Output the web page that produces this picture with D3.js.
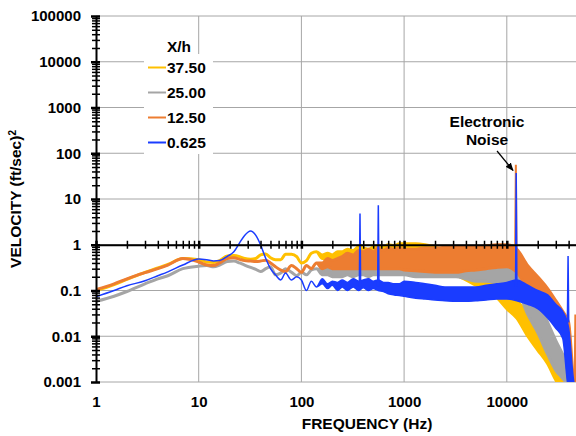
<!DOCTYPE html>
<html>
<head>
<meta charset="utf-8">
<script src="https://cdn.jsdelivr.net/npm/d3@7"></script>
<style>
  body { margin: 0; background: #fff; }
  text { font-family: "Liberation Sans", Arial, sans-serif; font-weight: bold; fill: #000; }
</style>
</head>
<body>
<script>
var freq = [1, 1.5, 2, 3, 4, 5, 7,
  10, 12, 14, 16, 19, 22, 25, 28, 32, 36, 40, 45, 50, 56, 63, 70, 80, 90,
  100, 112, 125, 140, 160, 180, 200, 225, 250, 280, 320, 360, 400, 450, 500, 560, 630, 700, 800, 900,
  1000, 1300, 1600, 2000, 2500, 3200, 4000, 5000, 6300, 8000,
  10000, 12500, 16000, 20000, 25000, 30000, 35000, 40000, 45000, 50000];

var seriesNames = ["37.50", "25.00", "12.50", "0.625"];
var seriesColors = ["#ffc000", "#a5a5a5", "#ed7d31", "#1a3cff"];

// lower / upper edge of each noisy band (equal where the curve is a single line)
var goldLo = [0.1, 0.135, 0.175, 0.25, 0.31, 0.37, 0.5,
  0.47, 0.42, 0.41, 0.45, 0.57, 0.58, 0.55, 0.5, 0.48, 0.5, 0.6, 0.63, 0.52, 0.47, 0.47, 0.62, 0.62, 0.55,
  0.4, 0.45, 0.65, 0.7, 0.5, 0.5, 0.45, 0.45, 0.4, 0.45, 0.45, 0.5, 0.5, 0.45, 0.5, 0.5, 0.5, 0.55, 0.55, 0.5,
  0.55, 0.5, 0.45, 0.4, 0.3, 0.22, 0.17, 0.13, 0.1, 0.07,
  0.04, 0.025, 0.01, 0.005, 0.0025, 0.0011, 0.0006, 0.0004, 0.0003, 0.0002];
var goldHi = [0.1, 0.135, 0.175, 0.25, 0.31, 0.37, 0.5,
  0.47, 0.42, 0.41, 0.45, 0.57, 0.58, 0.55, 0.5, 0.48, 0.5, 0.6, 0.63, 0.52, 0.47, 0.47, 0.62, 0.62, 0.55,
  0.4, 0.45, 0.65, 0.7, 0.6, 0.65, 0.6, 0.7, 0.7, 0.8, 0.75, 0.9, 0.85, 0.8, 0.9, 0.95, 0.9, 1.0, 0.95, 1.05,
  1.05, 1.05, 1.0, 0.9, 0.7, 0.5, 0.35, 0.25, 0.2, 0.15,
  0.1, 0.06, 0.03, 0.012, 0.006, 0.003, 0.0012, 0.0006, 0.0004, 0.0003];

var grayLo = [0.058, 0.075, 0.095, 0.14, 0.18, 0.21, 0.3,
  0.34, 0.35, 0.33, 0.36, 0.43, 0.44, 0.4, 0.36, 0.32, 0.29, 0.26, 0.3, 0.33, 0.22, 0.24, 0.3, 0.25, 0.21,
  0.25, 0.22, 0.28, 0.3, 0.22, 0.22, 0.2, 0.2, 0.2, 0.22, 0.2, 0.22, 0.22, 0.2, 0.22, 0.22, 0.22, 0.22, 0.22, 0.22,
  0.22, 0.2, 0.2, 0.2, 0.2, 0.2, 0.18, 0.16, 0.16, 0.15,
  0.15, 0.11, 0.03, 0.012, 0.004, 0.0018, 0.0012, 0.0008, 0.0005, 0.0003];
var grayHi = [0.058, 0.075, 0.095, 0.14, 0.18, 0.21, 0.3,
  0.34, 0.35, 0.33, 0.36, 0.43, 0.44, 0.4, 0.36, 0.32, 0.29, 0.26, 0.3, 0.33, 0.22, 0.24, 0.3, 0.25, 0.21,
  0.25, 0.22, 0.28, 0.3, 0.28, 0.32, 0.3, 0.35, 0.4, 0.42, 0.4, 0.45, 0.45, 0.45, 0.48, 0.5, 0.5, 0.5, 0.5, 0.5,
  0.5, 0.5, 0.5, 0.5, 0.45, 0.4, 0.35, 0.32, 0.33, 0.35,
  0.35, 0.3, 0.12, 0.06, 0.02, 0.008, 0.004, 0.002, 0.001, 0.0006];

var orangeLo = [0.105, 0.14, 0.18, 0.245, 0.3, 0.36, 0.5,
  0.42, 0.36, 0.35, 0.4, 0.5, 0.52, 0.48, 0.45, 0.44, 0.43, 0.44, 0.46, 0.4, 0.33, 0.28, 0.26, 0.35, 0.3,
  0.25, 0.35, 0.3, 0.4, 0.3, 0.33, 0.3, 0.3, 0.3, 0.3, 0.3, 0.3, 0.3, 0.3, 0.3, 0.3, 0.3, 0.3, 0.3, 0.3,
  0.28, 0.27, 0.26, 0.25, 0.25, 0.25, 0.27, 0.28, 0.3, 0.32,
  0.33, 0.25, 0.11, 0.06, 0.04, 0.025, 0.018, 0.008, 0.0005, 0.0003];
var orangeHi = [0.105, 0.14, 0.18, 0.245, 0.3, 0.36, 0.5,
  0.42, 0.36, 0.35, 0.4, 0.5, 0.52, 0.48, 0.45, 0.44, 0.43, 0.44, 0.46, 0.4, 0.33, 0.28, 0.26, 0.35, 0.3,
  0.25, 0.35, 0.3, 0.4, 0.4, 0.5, 0.45, 0.5, 0.55, 0.65, 0.6, 0.75, 0.7, 0.8, 0.7, 0.85, 0.75, 0.85, 0.8, 0.85,
  0.8, 0.8, 0.85, 0.85, 0.88, 0.88, 0.9, 0.9, 0.95, 1.0,
  1.0, 0.8, 0.35, 0.2, 0.11, 0.06, 0.035, 0.02, 0.001, 0.0006];

var blueLo = [0.073, 0.1, 0.127, 0.163, 0.21, 0.256, 0.36,
  0.49, 0.47, 0.44, 0.45, 0.56, 0.7, 1.1, 1.6, 2.0, 1.6, 1.0, 0.5, 0.3, 0.22, 0.17, 0.24, 0.17, 0.2,
  0.17, 0.1, 0.16, 0.12, 0.14, 0.11, 0.13, 0.1, 0.12, 0.1, 0.12, 0.1, 0.115, 0.1, 0.11, 0.1, 0.095, 0.085, 0.08, 0.078,
  0.075, 0.068, 0.065, 0.062, 0.06, 0.058, 0.058, 0.06, 0.062, 0.065,
  0.065, 0.06, 0.05, 0.04, 0.025, 0.015, 0.009, 0.0007, 0.0005, 0.0003];
var blueHi = [0.073, 0.1, 0.127, 0.163, 0.21, 0.256, 0.36,
  0.49, 0.47, 0.44, 0.45, 0.56, 0.7, 1.1, 1.6, 2.0, 1.6, 1.0, 0.5, 0.3, 0.22, 0.17, 0.24, 0.17, 0.2,
  0.17, 0.1, 0.16, 0.12, 0.18, 0.14, 0.16, 0.15, 0.17, 0.15, 0.18, 0.16, 0.17, 0.18, 0.16, 0.17, 0.15, 0.15, 0.14, 0.14,
  0.16, 0.15, 0.14, 0.13, 0.12, 0.12, 0.12, 0.12, 0.13, 0.14,
  0.15, 0.17, 0.13, 0.1, 0.08, 0.05, 0.035, 0.015, 0.001, 0.0006];

// narrow peaks: [frequency, base value, peak value]
var goldSpikes = [[12300, 0.03, 0.07]];
var graySpikes = [[12300, 0.2, 0.45]];
var orangeSpikes = [[12250, 0.8, 56], [46500, 0.0008, 0.03]];
var blueSpikes = [[372, 0.12, 4.8], [561, 0.12, 7.3], [12350, 0.12, 37], [39500, 0.02, 0.57]];

var xTicks = [1, 10, 100, 1000, 10000];
var yTicks = [0.001, 0.01, 0.1, 1, 10, 100, 1000, 10000, 100000];
var noiseFreq = 12300;

var width = 576, height = 436;
var decade = 102.7;

var x = d3.scaleLog().domain([1, 50000]).range([96, 96 + decade * Math.log10(50000)]);
var y = d3.scaleLog().domain([0.001, 100000]).range([382, 16]);

var svg = d3.select("body").append("svg")
  .attr("width", width)
  .attr("height", height);

svg.append("defs").append("clipPath").attr("id", "plot")
  .append("rect")
  .attr("x", x(1)).attr("y", y(100000))
  .attr("width", width - x(1)).attr("height", y(0.001) - y(100000));

svg.select("defs").append("marker")
  .attr("id", "arrow")
  .attr("viewBox", "0 0 10 10")
  .attr("refX", 9).attr("refY", 5)
  .attr("markerWidth", 7).attr("markerHeight", 7)
  .attr("orient", "auto")
  .append("path").attr("d", "M0,1L10,5L0,9Z").attr("fill", "#000");

// grid
var grid = svg.append("g").attr("stroke", "#a6a6a6").attr("stroke-width", 1);
grid.selectAll(".h").data(yTicks).enter().append("line")
  .attr("x1", x(1)).attr("x2", width)
  .attr("y1", function(d) { return y(d); })
  .attr("y2", function(d) { return y(d); });
grid.selectAll(".v").data(xTicks.slice(1)).enter().append("line")
  .attr("x1", function(d) { return x(d); })
  .attr("x2", function(d) { return x(d); })
  .attr("y1", y(100000)).attr("y2", y(0.001));

// series
var series = [
  {name: seriesNames[0], color: seriesColors[0], w: 3, lo: goldLo, hi: goldHi, spikes: goldSpikes},
  {name: seriesNames[1], color: seriesColors[1], w: 3, lo: grayLo, hi: grayHi, spikes: graySpikes},
  {name: seriesNames[2], color: seriesColors[2], w: 3, lo: orangeLo, hi: orangeHi, spikes: orangeSpikes},
  {name: seriesNames[3], color: seriesColors[3], w: 1.5, lo: blueLo, hi: blueHi, spikes: blueSpikes}
];

var area = d3.area()
  .x(function(d) { return x(d.f); })
  .y0(function(d) { return y(d.lo); })
  .y1(function(d) { return y(d.hi); })
  .curve(d3.curveMonotoneX);

var plot = svg.append("g").attr("clip-path", "url(#plot)");

series.forEach(function(s) {
  var rows = freq.map(function(f, i) { return {f: f, lo: s.lo[i], hi: s.hi[i]}; });
  plot.append("path")
    .attr("d", area(rows))
    .attr("fill", s.color)
    .attr("stroke", s.color)
    .attr("stroke-width", s.w)
    .attr("stroke-linejoin", "round");

  plot.selectAll(null).data(s.spikes).enter().append("path")
    .attr("d", function(d) {
      return "M" + x(d[0] * 0.985) + "," + y(d[1]) +
        "L" + x(d[0]) + "," + y(d[2]) +
        "L" + x(d[0] * 1.015) + "," + y(d[1]);
    })
    .attr("fill", "none")
    .attr("stroke", s.color)
    .attr("stroke-width", s.w === 3 ? 2 : 1.5);
});

function isMajor(d) { return Math.abs(Math.log10(d) - Math.round(Math.log10(d))) < 1e-6; }

// y axis with crossing ticks
var yAxisG = svg.append("g").attr("transform", "translate(" + x(1) + ",0)")
  .call(d3.axisLeft(y).tickValues(y.ticks()).tickFormat("").tickSizeInner(4).tickSizeOuter(0));
yAxisG.select(".domain").attr("stroke-width", 2);
yAxisG.selectAll(".tick line")
  .attr("x1", 4)
  .attr("x2", function(d) { return isMajor(d) ? -5 : -4; })
  .attr("stroke-width", function(d) { return isMajor(d) ? 2.5 : 1.5; });

svg.append("g").attr("transform", "translate(" + x(1) + ",0)")
  .call(d3.axisLeft(y).tickValues(yTicks).tickFormat(d3.format("~g")).tickSize(0).tickPadding(15))
  .call(function(g) { g.select(".domain").remove(); })
  .selectAll("text").style("font-size", "15px").style("font-family", "'Liberation Sans', Arial, sans-serif");

// x axis runs through y = 1
var xAxisG = svg.append("g").attr("transform", "translate(0," + y(1) + ")")
  .call(d3.axisBottom(x).tickValues(x.ticks()).tickFormat("").tickSizeInner(4).tickSizeOuter(0));
xAxisG.select(".domain").attr("stroke-width", 2);
xAxisG.selectAll(".tick line")
  .attr("y1", -4)
  .attr("stroke-width", function(d) { return isMajor(d) ? 2.5 : 1.5; });

svg.append("g").attr("transform", "translate(0," + y(0.001) + ")")
  .call(d3.axisBottom(x).tickValues(xTicks).tickFormat(d3.format("d")).tickSize(0).tickPadding(14))
  .call(function(g) { g.select(".domain").remove(); })
  .selectAll("text").style("font-size", "15px").style("font-family", "'Liberation Sans', Arial, sans-serif");

// legend
var legend = svg.append("g");
legend.append("rect")
  .attr("x", 144).attr("y", 54).attr("width", 69).attr("height", 100)
  .attr("fill", "#fff");
legend.append("text")
  .attr("x", 191).attr("y", 52)
  .attr("text-anchor", "end")
  .style("font-size", "15.5px")
  .text("X/h");
series.forEach(function(s, i) {
  var ly = 67.5 + i * 25;
  legend.append("line")
    .attr("x1", 148).attr("x2", 166)
    .attr("y1", ly).attr("y2", ly)
    .attr("stroke", s.color).attr("stroke-width", 2);
  legend.append("text")
    .attr("x", 167).attr("y", ly + 5.5)
    .style("font-size", "15.5px")
    .text(s.name);
});

// annotation
var nx = x(noiseFreq);
svg.append("text")
  .attr("x", nx - 29).attr("y", 127)
  .attr("text-anchor", "middle")
  .style("font-size", "15.5px")
  .text("Electronic");
svg.append("text")
  .attr("x", nx - 29).attr("y", 145)
  .attr("text-anchor", "middle")
  .style("font-size", "15.5px")
  .text("Noise");
svg.append("line")
  .attr("x1", nx - 19).attr("y1", 151)
  .attr("x2", nx - 3).attr("y2", y(42))
  .attr("stroke", "#000").attr("stroke-width", 1.2)
  .attr("marker-end", "url(#arrow)");

// axis titles
svg.append("text")
  .attr("transform", "translate(21," + ((y(100000) + y(0.001)) / 2) + ") rotate(-90)")
  .attr("text-anchor", "middle")
  .style("font-size", "15.5px")
  .text("VELOCITY (ft/sec)")
  .append("tspan")
  .attr("baseline-shift", "super")
  .style("font-size", "10px")
  .text("2");

svg.append("text")
  .attr("x", 367).attr("y", 429)
  .attr("text-anchor", "middle")
  .style("font-size", "15.5px")
  .text("FREQUENCY (Hz)");
</script>
</body>
</html>
